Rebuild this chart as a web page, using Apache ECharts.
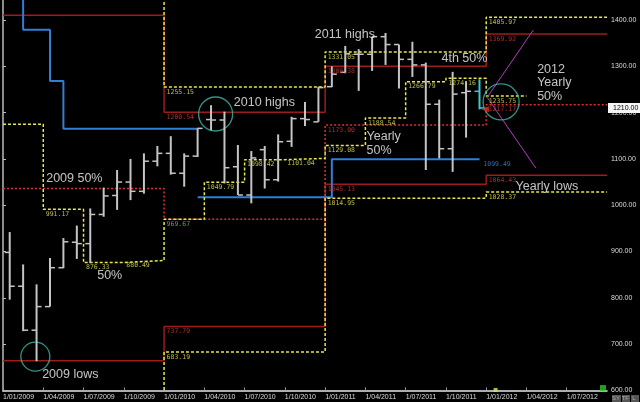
<!DOCTYPE html>
<html>
<head>
<meta charset="utf-8">
<script src="https://cdn.jsdelivr.net/npm/echarts@6/dist/echarts.min.js"></script>
<style>
html, body { margin: 0; padding: 0; background: #000; }
#chartBox { width: 640px; height: 402px; }
</style>
</head>
<body>
<div id="chartBox"></div>
<script>
// monthly OHLC, Jan 2009 .. Dec 2011 (last bar is the live one)
const barOpen  = [898, 825, 730, 781, 865, 920, 917, 980, 1021, 1050, 1030, 1095,
                  1112, 1069, 1106, 1185, 1184, 1083, 1022, 1120, 1055, 1138, 1187, 1180,
                  1256, 1287, 1326, 1326, 1364, 1347, 1315, 1303, 1218, 1122, 1243, 1246];
const barHigh  = [942, 872, 829, 886, 929, 956, 993, 1038, 1076, 1100, 1112, 1128,
                  1149, 1112, 1166, 1216, 1202, 1130, 1117, 1128, 1153, 1191, 1223, 1256,
                  1300, 1344, 1337, 1364, 1372, 1347, 1353, 1308, 1228, 1288, 1268, 1272];
const barLow   = [796, 728, 663, 781, 864, 884, 875, 975, 990, 1011, 1025, 1084,
                  1066, 1040, 1104, 1162, 1047, 1022, 1004, 1036, 1051, 1126, 1171, 1180,
                  1255, 1285, 1247, 1290, 1303, 1252, 1277, 1076, 1101, 1072, 1146, 1207];
const barClose = [825, 730, 781, 865, 921, 917, 980, 1020, 1050, 1030, 1095, 1112,
                  1069, 1106, 1166, 1184, 1081, 1022, 1102, 1055, 1137, 1187, 1185, 1254,
                  1283, 1327, 1326, 1364, 1347, 1315, 1303, 1218, 1122, 1240, 1246, 1210];
const lastPrice = 1210;

// x axis: months counted from 1/01/2009
const xTickLabels = ['1/01/2009', '1/04/2009', '1/07/2009', '1/10/2009', '1/01/2010', '1/04/2010',
                     '1/07/2010', '1/10/2010', '1/01/2011', '1/04/2011', '1/07/2011', '1/10/2011',
                     '1/01/2012', '1/04/2012', '1/07/2012'];

// yearly levels (start month of each year)
const yearStart    = [0, 12, 24, 36, 45];
const redHigh      = [1410, 1200.54, 1300.38, 1369.92, 1369.92];
const redLow       = [664, 737.79, 1045.13, 1064.43, 1064.43];
const yellowHigh   = [1480, 1255.15, 1331.05, 1405.97, 1405.97];
const yellowLow    = [560, 683.19, 1014.95, 1028.37, 1028.37];
const yearly50     = [1036, 969.67, 1173.00, 1217.17, 1217.17];

// quarterly 50% levels
const quarterStart = [0, 3, 6, 9, 12, 15, 18, 21, 24, 27, 30, 33, 36, 39];
const quarter50    = [1175, 991.17, 876.33, 880.49, 969.67, 1049.79, 1098.42, 1101.04,
                      1129.08, 1188.54, 1266.79, 1274.16, 1235.75, 1235.75];

// blue stop line (changes at bar centres)
const blueMonthA = [0.5, 1.5, 3.5, 4.5, 14.5];
const blueValA   = [1480, 1379, 1268, 1165, 1165];
const blueMonthB = [14.5, 24.5, 35.5];
const blueValB   = [1017, 1099.49, 1099.49];

// 2012 fan
const fanMonth = [36.07, 39.5, 39.7];
const fanPrice = [1233, 1378, 1080];

// value tags next to the levels
const tagMonth = [12, 12, 12, 12, 12, 3, 6, 9, 15, 18, 21, 24, 24, 24, 24, 24, 24, 27, 30, 33,
                  36, 36, 36, 36, 36, 36, 35.6];
const tagPrice = [1255.15, 1200.54, 969.67, 737.79, 683.19, 991.17, 876.33, 880.49, 1049.79,
                  1098.42, 1101.04, 1331.05, 1300.38, 1173.00, 1129.08, 1045.13, 1014.95,
                  1188.54, 1266.79, 1274.16, 1235.75, 1217.17, 1405.97, 1369.92, 1064.43,
                  1028.37, 1099.49];
const tagColor = ['y', 'r', 'g', 'r', 'y', 'y', 'y', 'y', 'y', 'y', 'y', 'y', 'r', 'r', 'y', 'r', 'y',
                  'y', 'y', 'y', 'y', 'r', 'y', 'r', 'r', 'y', 'b'];

// white notes
const noteText  = ['2010 highs', '2011 highs', '2009 50%', '50%', '2009 lows', 'Yearly', '50%',
                   '4th 50%', '2012', 'Yearly', '50%', 'Yearly lows'];
const noteMonth = [17.16, 23.19, 3.18, 6.98, 2.88, 27.05, 27.05, 32.63, 39.76, 39.76, 39.76, 38.15];
const notePrice = [1221, 1368, 1057, 849, 635, 1148, 1118, 1316, 1294, 1265, 1234, 1040];

// circles
const circleMonth = [15.84, 2.41, 37.11];
const circlePrice = [1197, 673, 1223];
const circleSize  = [34, 29, 36];

const tagColors = { y: '#e4e45a', r: '#d23a3a', g: '#5fcf4f', b: '#3f86d8' };

const pairs = (xs, ys) => xs.map((x, i) => [x, ys[i]]);

const ohlcData = barOpen.map((o, i) => [i + 0.5, o, barHigh[i], barLow[i], barClose[i],
  i === barOpen.length - 1 ? 1 : 0]);

function renderOhlc(params, api) {
  const x = api.value(0);
  const o = api.coord([x, api.value(1)]);
  const h = api.coord([x, api.value(2)]);
  const l = api.coord([x, api.value(3)]);
  const c = api.coord([x, api.value(4)]);
  const color = api.value(5) ? '#3cc8cc' : '#c4c4c4';
  return {
    type: 'group',
    children: [
      { type: 'line', shape: { x1: h[0], y1: h[1], x2: l[0], y2: l[1] }, style: { stroke: color, lineWidth: 2 } },
      { type: 'line', shape: { x1: o[0] - 5, y1: o[1], x2: o[0], y2: o[1] }, style: { stroke: color, lineWidth: 1.5 } },
      { type: 'line', shape: { x1: c[0], y1: c[1], x2: c[0] + 5, y2: c[1] }, style: { stroke: color, lineWidth: 1.5 } }
    ]
  };
}

function stepLine(data, color, type, width, z) {
  return {
    type: 'line', step: 'end', data: data, showSymbol: false, silent: true, z: z || 2,
    lineStyle: { color: color, type: type, width: width }
  };
}

const chart = echarts.init(document.getElementById('chartBox'));

const option = {
  backgroundColor: '#000',
  animation: false,
  grid: { left: 3, right: 33, top: 0, bottom: 11.6 },
  xAxis: {
    type: 'value', min: 0, max: 45, interval: 3,
    axisLine: { lineStyle: { color: '#e8e8e8', width: 1.5 } },
    axisTick: { inside: true, length: 3, lineStyle: { color: '#999' } },
    splitLine: { show: false },
    axisLabel: {
      showMaxLabel: false, align: 'left', margin: 3,
      color: '#dcdcdc', fontSize: 7, fontFamily: 'Liberation Sans',
      formatter: v => xTickLabels[v / 3] || ''
    }
  },
  yAxis: [{
    type: 'value', position: 'right', min: 600, max: 1443.2, interval: 100,
    axisLine: { show: true, lineStyle: { color: '#e8e8e8', width: 1.5 } },
    axisTick: { show: true, length: 3, lineStyle: { color: '#bbb' } },
    splitLine: { show: false },
    axisLabel: {
      showMaxLabel: false, margin: 4,
      color: '#dcdcdc', fontSize: 7, fontFamily: 'Liberation Sans',
      formatter: v => (v % 100 === 0 ? v.toFixed(2) : '')
    }
  }, {
    type: 'value', position: 'left', min: 600, max: 1443.2,
    axisLine: { show: true, lineStyle: { color: '#8c8c8c', width: 2 } },
    axisTick: { show: false }, axisLabel: { show: false }, splitLine: { show: false }
  }],
  series: [
    stepLine(pairs(yearStart, redHigh), '#9c1c1c', 'solid', 1.5),
    stepLine(pairs(yearStart, redLow), '#9c1c1c', 'solid', 1.5),
    Object.assign(stepLine(pairs(yearStart, yearly50), '#e03030', [2, 2], 1.5), {
      markLine: {
        silent: true, symbol: 'none',
        lineStyle: { color: 'transparent', width: 0 },
        data: [{ yAxis: lastPrice }],
        label: {
          position: 'end', distance: 1, formatter: lastPrice.toFixed(2),
          backgroundColor: '#f4f4f4', color: '#000', fontSize: 7,
          fontFamily: 'Liberation Sans', padding: [2, 5, 1, 5]
        }
      }
    }),
    stepLine(pairs(yearStart, yellowHigh), '#e8e84a', [3, 2], 1.5, 3),
    stepLine(pairs(yearStart, yellowLow), '#e8e84a', [3, 2], 1.5, 3),
    stepLine(pairs(quarterStart, quarter50), '#e8e84a', [3, 2], 1.5, 3),
    stepLine(pairs(blueMonthA, blueValA), '#2f7fd6', 'solid', 2),
    stepLine(pairs(blueMonthB, blueValB), '#2f7fd6', 'solid', 2),
    {
      type: 'line', data: [[fanMonth[0], fanPrice[0]], [fanMonth[1], fanPrice[1]]],
      showSymbol: false, silent: true, z: 4, lineStyle: { color: '#b23cc0', width: 1 }
    },
    {
      type: 'line', data: [[fanMonth[0], fanPrice[0]], [fanMonth[2], fanPrice[2]]],
      showSymbol: false, silent: true, z: 4, lineStyle: { color: '#b23cc0', width: 1 }
    },
    {
      type: 'custom', renderItem: renderOhlc, data: ohlcData, z: 5, silent: true,
      encode: { x: 0, y: [1, 2, 3, 4] }
    },
    {
      // price arrow at last bar
      type: 'scatter', z: 6, silent: true,
      data: [[35.92, 1207]], symbol: 'triangle', symbolRotate: 90, symbolSize: [6, 8],
      itemStyle: { color: '#d82a2a' }
    },
    {
      type: 'scatter', z: 4, silent: true,
      data: circleMonth.map((m, i) => ({ value: [m, circlePrice[i]], symbolSize: circleSize[i] })),
      itemStyle: { color: 'transparent', borderColor: '#3cb8a8', borderWidth: 1.3 }
    },
    {
      type: 'scatter', z: 7, silent: true, symbol: 'rect', symbolSize: 1,
      itemStyle: { color: 'transparent' },
      data: tagMonth.map((m, i) => ({
        value: [m, tagPrice[i]],
        label: { color: tagColors[tagColor[i]] }
      })),
      label: {
        show: true, position: [3, 2], fontSize: 6.5, fontFamily: 'DejaVu Sans Mono',
        formatter: p => p.value[1].toFixed(2)
      }
    },
    {
      type: 'scatter', z: 8, silent: true, symbol: 'rect', symbolSize: 1,
      itemStyle: { color: 'transparent' },
      data: noteText.map((t, i) => ({ name: t, value: [noteMonth[i], notePrice[i]] })),
      label: {
        show: true, position: 'right', distance: 0, formatter: '{b}',
        color: '#f2f2f2', fontSize: 12.5, fontFamily: 'Liberation Sans'
      }
    },
    {
      // little markers on the bottom edge
      type: 'scatter', z: 8, silent: true, symbol: 'rect',
      data: [
        { value: [36.7, 601], symbolSize: 4, itemStyle: { color: '#e4e45a' } },
        { value: [44.7, 605], symbolSize: 6, itemStyle: { color: '#22d022' } }
      ]
    }
  ],
  graphic: [
    { type: 'rect', left: 612, top: 395, shape: { width: 9, height: 7 }, style: { fill: '#555' } },
    { type: 'rect', left: 622, top: 395, shape: { width: 8, height: 7 }, style: { fill: '#555' } },
    { type: 'rect', left: 631, top: 395, shape: { width: 8, height: 7 }, style: { fill: '#555' } },
    { type: 'text', left: 612, top: 395, style: { text: 'SY TF  L', fill: '#aaa', fontSize: 6, fontFamily: 'Liberation Sans' } }
  ]
};

chart.setOption(option);
</script>
</body>
</html>
